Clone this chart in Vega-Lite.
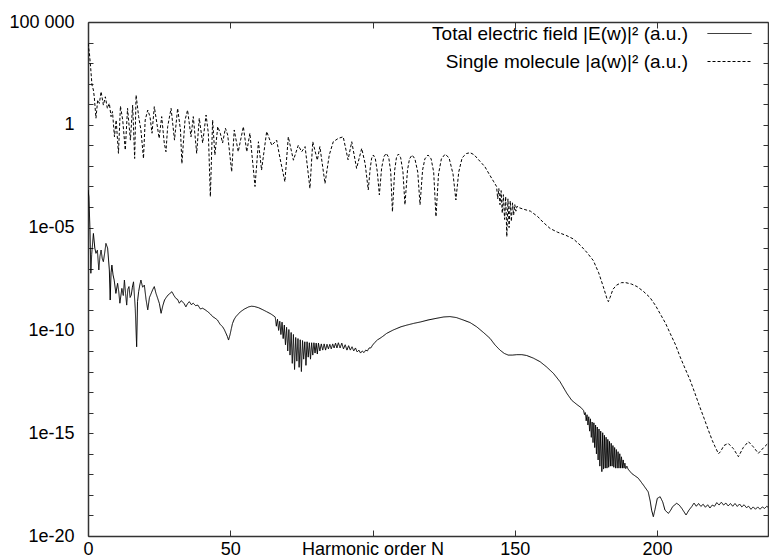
{
  "$schema": "https://vega.github.io/schema/vega-lite/v6.json",
  "autosize": {"type": "none"},
  "padding": {"left": 88, "top": 22, "right": 1, "bottom": 22},
  "width": 680,
  "height": 514,
  "background": "white",
  "config": {
    "view": {"stroke": null},
    "axis": {"labelFont": "Liberation Sans", "labelFontSize": 18, "labelColor": "#000", "domainColor": "#333", "domainWidth": 1.5, "tickColor": "#333", "tickWidth": 1, "grid": false, "labelOverlap": false, "labelFlush": false, "labelBound": false},
    "legend": {"labelFont": "Liberation Sans", "labelFontSize": 19, "labelColor": "#000"}
  },
  "datasets": {
    "solid": [
      {"N":0.0,"v":6.8e-4},{"N":0.3,"v":3.2e-4},{"N":0.7,"v":7.9e-6},{"N":1.0,"v":6.0e-8},{"N":1.3,"v":5.0e-7},{"N":1.9,"v":5.2e-6},{"N":2.4,"v":1.0e-6},{"N":2.8,"v":5.6e-7},{"N":3.3,"v":7.9e-7},{"N":3.8,"v":8.7e-8},{"N":4.2,"v":4.0e-7},{"N":4.6,"v":8.1e-7},{"N":5.0,"v":3.2e-7},{"N":5.4,"v":2.2e-7},{"N":5.9,"v":6.3e-7},{"N":6.3,"v":1.7e-6},{"N":6.9,"v":1.0e-6},{"N":7.5,"v":8.7e-8},{"N":7.8,"v":3.0e-9},{"N":8.1,"v":6.3e-8},{"N":8.4,"v":1.5e-7},{"N":8.8,"v":5.0e-8},{"N":9.2,"v":2.8e-8},{"N":9.8,"v":6.3e-9},{"N":10.4,"v":1.95e-8},{"N":10.8,"v":7.9e-9},{"N":11.2,"v":2.1e-9},{"N":11.9,"v":1.1e-8},{"N":12.4,"v":5.0e-9},{"N":12.8,"v":2.8e-8},{"N":13.2,"v":6.3e-9},{"N":13.6,"v":1.7e-9},{"N":14.0,"v":1.0e-8},{"N":14.4,"v":1.35e-8},{"N":14.8,"v":4.0e-9},{"N":15.2,"v":5.2e-9},{"N":15.6,"v":1.26e-8},{"N":16.0,"v":2.3e-8},{"N":16.6,"v":1.2e-9},{"N":17.1,"v":1.6e-11},{"N":17.4,"v":2.5e-9},{"N":17.8,"v":7.6e-9},{"N":18.2,"v":1.6e-8},{"N":18.6,"v":2.8e-8},{"N":19.2,"v":1.26e-8},{"N":19.8,"v":1.6e-8},{"N":20.4,"v":3.2e-9},{"N":21.0,"v":1.0e-9},{"N":21.6,"v":4.0e-9},{"N":22.2,"v":6.3e-9},{"N":22.8,"v":1.0e-8},{"N":23.3,"v":1.35e-8},{"N":23.9,"v":6.3e-9},{"N":24.5,"v":3.6e-9},{"N":25.1,"v":2.0e-9},{"N":25.7,"v":6.8e-10},{"N":26.3,"v":1.6e-9},{"N":26.9,"v":3.0e-9},{"N":27.5,"v":4.0e-9},{"N":28.1,"v":5.2e-9},{"N":28.8,"v":6.3e-9},{"N":29.5,"v":7.6e-9},{"N":30.2,"v":5.0e-9},{"N":30.9,"v":3.6e-9},{"N":31.5,"v":3.2e-9},{"N":32.1,"v":2.1e-9},{"N":32.7,"v":2.8e-9},{"N":33.2,"v":2.5e-9},{"N":33.8,"v":2.0e-9},{"N":34.4,"v":1.4e-9},{"N":35.0,"v":2.0e-9},{"N":35.6,"v":2.5e-9},{"N":36.3,"v":1.8e-9},{"N":37.0,"v":2.1e-9},{"N":37.8,"v":1.6e-9},{"N":38.6,"v":1.7e-9},{"N":39.5,"v":1.1e-9},{"N":40.3,"v":1.2e-9},{"N":41.2,"v":1.0e-9},{"N":42.1,"v":8.1e-10},{"N":43.0,"v":6.3e-10},{"N":43.8,"v":4.7e-10},{"N":44.6,"v":4.0e-10},{"N":45.5,"v":3.2e-10},{"N":46.4,"v":2.0e-10},{"N":47.3,"v":1.5e-10},{"N":47.9,"v":1.1e-10},{"N":48.5,"v":7.2e-11},{"N":49.0,"v":5.0e-11},{"N":49.4,"v":3.4e-11},{"N":49.9,"v":6.0e-11},{"N":50.4,"v":1.26e-10},{"N":50.8,"v":2.2e-10},{"N":51.4,"v":3.5e-10},{"N":52.0,"v":4.7e-10},{"N":53.5,"v":7.9e-10},{"N":55.0,"v":1.1e-9},{"N":56.5,"v":1.4e-9},{"N":57.5,"v":1.5e-9},{"N":58.5,"v":1.45e-9},{"N":60.0,"v":1.26e-9},{"N":61.5,"v":1.0e-9},{"N":62.8,"v":8.1e-10},{"N":64.3,"v":6.3e-10},{"N":65.8,"v":4.5e-10},
      {"N":66.2,"v":1.6e-10},{"N":66.6,"v":3.5e-10},{"N":67.0,"v":1.0e-10},{"N":67.4,"v":2.8e-10},{"N":67.8,"v":6.3e-11},{"N":68.2,"v":2.5e-10},{"N":68.6,"v":4.0e-11},{"N":69.0,"v":1.8e-10},{"N":69.4,"v":2.0e-11},{"N":69.8,"v":1.4e-10},{"N":70.2,"v":1.0e-11},{"N":70.6,"v":1.1e-10},{"N":71.0,"v":6.3e-12},{"N":71.4,"v":7.9e-11},{"N":71.8,"v":2.5e-12},{"N":72.2,"v":6.3e-11},{"N":72.6,"v":1.26e-12},{"N":73.0,"v":4.5e-11},{"N":73.4,"v":3.2e-12},{"N":73.8,"v":4.0e-11},{"N":74.2,"v":1.6e-12},{"N":74.6,"v":3.5e-11},{"N":75.0,"v":1.0e-12},{"N":75.4,"v":3.2e-11},{"N":75.8,"v":4.0e-12},{"N":76.2,"v":2.8e-11},{"N":76.6,"v":2.0e-12},{"N":77.0,"v":2.8e-11},{"N":77.4,"v":5.0e-12},{"N":77.8,"v":2.5e-11},{"N":78.2,"v":4.0e-12},{"N":78.6,"v":2.5e-11},{"N":79.0,"v":6.3e-12},{"N":79.4,"v":2.5e-11},{"N":79.8,"v":7.9e-12},{"N":80.2,"v":2.4e-11},{"N":80.6,"v":7.1e-12},{"N":81.0,"v":2.4e-11},{"N":81.5,"v":1.0e-11},{"N":82.0,"v":2.2e-11},{"N":82.5,"v":1.1e-11},{"N":83.0,"v":2.2e-11},{"N":83.5,"v":1.1e-11},{"N":84.0,"v":2.1e-11},{"N":84.5,"v":1.26e-11},{"N":85.0,"v":2.1e-11},{"N":85.5,"v":1.26e-11},{"N":86.0,"v":2.2e-11},{"N":86.5,"v":1.4e-11},{"N":87.0,"v":2.4e-11},{"N":87.5,"v":1.4e-11},{"N":88.0,"v":2.5e-11},{"N":88.6,"v":1.4e-11},{"N":89.2,"v":2.4e-11},{"N":89.8,"v":1.26e-11},{"N":90.4,"v":2.0e-11},{"N":91.0,"v":1.1e-11},{"N":91.6,"v":1.8e-11},{"N":92.2,"v":1.1e-11},{"N":92.8,"v":1.6e-11},{"N":93.4,"v":1.0e-11},{"N":94.0,"v":1.4e-11},{"N":94.6,"v":8.9e-12},{"N":95.2,"v":1.1e-11},{"N":95.8,"v":7.9e-12},{"N":96.4,"v":1.0e-11},{"N":97.0,"v":8.3e-12},{"N":97.6,"v":1.1e-11},{"N":98.2,"v":1.0e-11},{"N":98.8,"v":1.4e-11},{"N":99.4,"v":1.4e-11},{"N":100.0,"v":1.9e-11},{"N":100.8,"v":2.6e-11},{"N":101.8,"v":3.5e-11},{"N":102.6,"v":4.1e-11},{"N":103.5,"v":5.0e-11},{"N":105.0,"v":7.2e-11},{"N":107.3,"v":1.05e-10},{"N":110.0,"v":1.5e-10},{"N":112.0,"v":1.8e-10},{"N":114.5,"v":2.2e-10},{"N":117.0,"v":2.6e-10},{"N":119.5,"v":3.2e-10},{"N":122.6,"v":3.9e-10},{"N":125.0,"v":4.5e-10},{"N":127.2,"v":4.7e-10},{"N":129.5,"v":4.2e-10},{"N":131.9,"v":3.2e-10},{"N":134.3,"v":2.4e-10},{"N":136.6,"v":1.5e-10},{"N":139.0,"v":7.9e-11},{"N":141.3,"v":4.1e-11},{"N":143.0,"v":2.0e-11},{"N":144.8,"v":1.1e-11},{"N":146.3,"v":7.6e-12},{"N":147.7,"v":6.3e-12},{"N":149.2,"v":6.3e-12},{"N":150.7,"v":6.6e-12},{"N":152.5,"v":6.6e-12},{"N":154.2,"v":6.0e-12},{"N":156.5,"v":4.5e-12},{"N":158.9,"v":3.0e-12},{"N":161.2,"v":1.66e-12},{"N":163.6,"v":8.1e-13},{"N":165.9,"v":3.2e-13},{"N":168.3,"v":8.7e-14},{"N":170.0,"v":4.0e-14},{"N":171.8,"v":2.5e-14},{"N":173.2,"v":1.8e-14},
      {"N":174.2,"v":1.26e-14},{"N":174.5,"v":7.9e-15},{"N":174.8,"v":1.0e-14},{"N":175.1,"v":4.0e-15},{"N":175.4,"v":7.9e-15},{"N":175.7,"v":2.5e-15},{"N":176.0,"v":6.3e-15},{"N":176.3,"v":1.26e-15},{"N":176.6,"v":5.0e-15},{"N":176.9,"v":6.3e-16},{"N":177.2,"v":3.5e-15},{"N":177.5,"v":3.5e-16},{"N":177.8,"v":3.2e-15},{"N":178.1,"v":2.0e-16},{"N":178.4,"v":2.5e-15},{"N":178.7,"v":1.0e-16},{"N":179.0,"v":2.0e-15},{"N":179.3,"v":5.0e-17},{"N":179.6,"v":1.6e-15},{"N":179.9,"v":2.5e-17},{"N":180.2,"v":1.26e-15},{"N":180.6,"v":1.35e-17},{"N":180.9,"v":1.05e-15},{"N":181.2,"v":1.8e-17},{"N":181.5,"v":7.9e-16},{"N":181.8,"v":2.0e-17},{"N":182.1,"v":6.3e-16},{"N":182.4,"v":2.0e-17},{"N":182.7,"v":5.0e-16},{"N":183.0,"v":2.2e-17},{"N":183.3,"v":4.0e-16},{"N":183.6,"v":2.5e-17},{"N":183.9,"v":3.2e-16},{"N":184.2,"v":2.5e-17},{"N":184.5,"v":2.5e-16},{"N":184.8,"v":2.2e-17},{"N":185.1,"v":2.0e-16},{"N":185.4,"v":2.0e-17},{"N":185.7,"v":1.6e-16},{"N":186.0,"v":2.0e-17},{"N":186.3,"v":1.26e-16},{"N":186.6,"v":2.0e-17},{"N":186.9,"v":1.0e-16},{"N":187.2,"v":2.0e-17},{"N":187.5,"v":7.1e-17},{"N":187.8,"v":2.0e-17},{"N":188.1,"v":5.0e-17},{"N":188.4,"v":2.0e-17},{"N":188.7,"v":3.5e-17},{"N":189.0,"v":1.9e-17},{"N":189.4,"v":2.5e-17},{"N":189.8,"v":1.8e-17},
      {"N":191.1,"v":1.1e-17},{"N":193.4,"v":6.5e-18},{"N":195.2,"v":3.0e-18},{"N":196.9,"v":1.4e-18},{"N":197.6,"v":5.0e-19},{"N":198.1,"v":1.8e-19},{"N":198.7,"v":8.7e-20},{"N":199.3,"v":2.0e-19},{"N":200.1,"v":6.8e-19},{"N":201.1,"v":8.1e-19},{"N":202.0,"v":4.5e-19},{"N":202.8,"v":1.8e-19},{"N":204.0,"v":1.26e-19},{"N":204.8,"v":1.8e-19},{"N":205.5,"v":2.7e-19},{"N":206.9,"v":3.9e-19},{"N":207.8,"v":3.2e-19},{"N":208.7,"v":2.2e-19},{"N":210.2,"v":1.05e-19},{"N":211.2,"v":1.8e-19},{"N":212.2,"v":2.7e-19},{"N":213.0,"v":4.0e-19},{"N":213.8,"v":2.8e-19},{"N":214.6,"v":3.8e-19},{"N":215.4,"v":2.75e-19},{"N":216.2,"v":3.5e-19},{"N":217.0,"v":2.5e-19},{"N":217.8,"v":3.3e-19},{"N":218.6,"v":2.3e-19},{"N":219.4,"v":3.2e-19},{"N":220.2,"v":2.8e-19},{"N":221.0,"v":4.2e-19},{"N":221.8,"v":3.2e-19},{"N":222.6,"v":4.4e-19},{"N":223.4,"v":3.2e-19},{"N":224.2,"v":4.0e-19},{"N":225.0,"v":2.9e-19},{"N":225.8,"v":3.8e-19},{"N":226.6,"v":2.8e-19},{"N":227.4,"v":3.8e-19},{"N":228.2,"v":2.75e-19},{"N":229.0,"v":3.6e-19},{"N":229.8,"v":2.6e-19},{"N":230.6,"v":3.3e-19},{"N":231.4,"v":2.4e-19},{"N":232.2,"v":2.8e-19},{"N":233.0,"v":2.0e-19},{"N":233.8,"v":2.6e-19},{"N":234.6,"v":2.0e-19},{"N":235.4,"v":2.6e-19},{"N":236.2,"v":2.0e-19},{"N":237.0,"v":2.6e-19},{"N":237.8,"v":2.2e-19},{"N":238.6,"v":2.8e-19},{"N":239.0,"v":2.5e-19}
    ],
    "dashed": [
      {"N":0.0,"v":9.1e3},{"N":0.5,"v":3.0e3},{"N":0.9,"v":6.8e2},{"N":1.4,"v":87},{"N":1.9,"v":49},{"N":2.2,"v":23},{"N":2.8,"v":2.1},{"N":3.4,"v":16},{"N":4.0,"v":11},{"N":4.6,"v":41},{"N":5.4,"v":9.1},{"N":6.1,"v":23},{"N":6.8,"v":6.3},{"N":7.5,"v":11},{"N":8.1,"v":2.5},{"N":8.6,"v":4.4},{"N":9.3,"v":0.26},{"N":9.9,"v":1.7},{"N":10.7,"v":0.041},{"N":11.4,"v":8.1},{"N":12.2,"v":1.7},{"N":13.1,"v":0.059},{"N":13.9,"v":6.3},{"N":14.9,"v":0.18},{"N":15.7,"v":9.1},{"N":16.4,"v":0.023},{"N":16.9,"v":28},{"N":17.8,"v":2.5},{"N":18.6,"v":0.56},{"N":19.5,"v":0.023},{"N":20.1,"v":1.7},{"N":21.0,"v":5.2},{"N":21.8,"v":2.5},{"N":22.5,"v":0.39},{"N":23.3,"v":7.6},{"N":24.2,"v":1.2},{"N":25.0,"v":0.22},{"N":25.9,"v":2.5},{"N":26.8,"v":0.13},{"N":27.4,"v":0.049},{"N":28.0,"v":0.81},{"N":29.2,"v":6.3},{"N":30.4,"v":0.18},{"N":31.5,"v":6.3},{"N":32.5,"v":0.56},{"N":33.0,"v":0.013},{"N":34.1,"v":1.7},{"N":35.0,"v":5.2},{"N":36.2,"v":0.26},{"N":37.0,"v":2.5},{"N":38.2,"v":0.041},{"N":39.1,"v":2.1},{"N":40.3,"v":0.13},{"N":41.5,"v":3.0},{"N":42.3,"v":0.39},{"N":43.0,"v":3.2e-4},{"N":43.8,"v":1.7},{"N":44.6,"v":0.034},{"N":45.6,"v":0.81},{"N":46.5,"v":0.39},{"N":47.3,"v":0.13},{"N":48.3,"v":0.68},{"N":49.1,"v":0.32},{"N":50.5,"v":0.0052},{"N":51.4,"v":0.56},{"N":52.8,"v":0.049},{"N":54.6,"v":0.81},{"N":55.8,"v":0.049},{"N":56.9,"v":0.39},{"N":58.7,"v":0.001},{"N":59.9,"v":0.15},{"N":61.0,"v":0.0063},{"N":62.8,"v":0.47},{"N":64.6,"v":0.10},{"N":66.3,"v":0.18},{"N":67.5,"v":0.023},{"N":69.2,"v":0.0017},{"N":70.4,"v":0.26},{"N":72.2,"v":0.019},{"N":73.9,"v":0.10},{"N":75.1,"v":0.049},{"N":76.3,"v":0.087},{"N":78.0,"v":8.1e-4},{"N":79.0,"v":0.15},{"N":80.6,"v":0.019},{"N":81.5,"v":0.087},{"N":83.3,"v":0.0014},{"N":84.8,"v":0.034},{"N":86.2,"v":0.15},{"N":88.0,"v":0.22},{"N":89.7,"v":0.26},{"N":91.4,"v":0.020},{"N":92.7,"v":0.15},{"N":94.4,"v":0.0076},{"N":96.2,"v":0.071},{"N":97.4,"v":0.013},{"N":98.5,"v":6.8e-4},
      {"N":99.2,"v":0.0079},{"N":99.7,"v":0.024},{"N":100.3,"v":0.034},{"N":101.0,"v":0.022},{"N":101.7,"v":0.0050},{"N":102.4,"v":3.9e-4},{"N":103.2,"v":0.0079},{"N":104.0,"v":0.028},{"N":104.8,"v":0.041},{"N":105.7,"v":0.026},{"N":106.4,"v":0.0050},{"N":107.0,"v":5.9e-5},{"N":107.8,"v":0.0063},{"N":108.4,"v":0.025},{"N":109.1,"v":0.038},{"N":109.9,"v":0.025},{"N":110.7,"v":0.0050},{"N":111.4,"v":1.3e-4},{"N":112.3,"v":0.0063},{"N":113.0,"v":0.022},{"N":113.9,"v":0.034},{"N":114.9,"v":0.022},{"N":115.9,"v":0.0050},{"N":116.7,"v":1.3e-4},{"N":117.6,"v":0.0063},{"N":118.4,"v":0.022},{"N":119.5,"v":0.034},{"N":120.6,"v":0.022},{"N":121.5,"v":0.0050},{"N":122.3,"v":3.4e-5},{"N":123.2,"v":0.0040},{"N":124.2,"v":0.022},{"N":125.5,"v":0.037},{"N":126.9,"v":0.025},{"N":128.3,"v":0.0040},{"N":129.3,"v":2.2e-4},{"N":130.3,"v":0.0050},{"N":131.5,"v":0.025},{"N":133.0,"v":0.040},{"N":134.3,"v":0.044},{"N":135.7,"v":0.035},{"N":137.0,"v":0.022},{"N":138.5,"v":0.013},{"N":139.5,"v":0.0091},{"N":141.0,"v":0.0040},{"N":142.5,"v":0.0018},{"N":143.6,"v":0.0010},
      {"N":144.0,"v":2.5e-4},{"N":144.4,"v":7.9e-4},{"N":144.8,"v":1.3e-4},{"N":145.2,"v":6.3e-4},{"N":145.6,"v":5.0e-5},{"N":146.0,"v":4.0e-4},{"N":146.4,"v":2.5e-5},{"N":146.8,"v":3.2e-4},{"N":147.2,"v":3.6e-6},{"N":147.6,"v":2.5e-4},{"N":148.0,"v":1.0e-5},{"N":148.4,"v":2.0e-4},{"N":148.8,"v":2.0e-5},{"N":149.2,"v":1.6e-4},{"N":149.6,"v":4.0e-5},{"N":150.0,"v":1.3e-4},{"N":150.4,"v":6.3e-5},{"N":150.8,"v":1.1e-4},{"N":151.5,"v":9.3e-5},
      {"N":153.0,"v":7.9e-5},{"N":155.5,"v":6.3e-5},{"N":158.0,"v":3.5e-5},{"N":160.0,"v":1.8e-5},{"N":162.4,"v":9.1e-6},{"N":165.0,"v":6.0e-6},{"N":168.0,"v":4.2e-6},{"N":170.6,"v":2.8e-6},{"N":173.0,"v":1.4e-6},{"N":175.3,"v":6.3e-7},{"N":177.6,"v":2.5e-7},{"N":179.5,"v":6.3e-8},{"N":181.1,"v":1.35e-8},{"N":182.4,"v":3.5e-9},{"N":182.9,"v":2.5e-9},{"N":183.5,"v":4.0e-9},{"N":184.5,"v":1.0e-8},{"N":185.8,"v":1.6e-8},{"N":187.5,"v":2.1e-8},{"N":189.0,"v":2.1e-8},{"N":191.0,"v":1.8e-8},{"N":193.0,"v":1.35e-8},{"N":195.2,"v":7.9e-9},{"N":197.5,"v":4.0e-9},{"N":199.5,"v":1.6e-9},{"N":201.0,"v":6.8e-10},{"N":203.0,"v":2.2e-10},{"N":204.6,"v":7.2e-11},{"N":206.5,"v":2.0e-11},{"N":208.1,"v":5.2e-12},{"N":210.0,"v":1.26e-12},{"N":211.6,"v":3.9e-13},{"N":213.3,"v":8.9e-14},{"N":215.0,"v":1.95e-14},{"N":216.6,"v":5.0e-15},{"N":218.0,"v":1.45e-15},{"N":219.4,"v":4.5e-16},{"N":220.4,"v":2.2e-16},{"N":221.6,"v":1.0e-16},{"N":222.3,"v":1.26e-16},{"N":223.5,"v":2.5e-16},{"N":225.0,"v":3.2e-16},{"N":226.8,"v":1.8e-16},{"N":228.6,"v":7.2e-17},{"N":230.3,"v":2.0e-16},{"N":232.1,"v":3.9e-16},{"N":233.8,"v":2.2e-16},{"N":235.6,"v":1.05e-16},{"N":237.5,"v":2.0e-16},{"N":239.0,"v":3.2e-16}
    ]
  },
  "layer": [
    {
      "data": {"name": "solid"},
      "mark": {"type": "line", "color": "#000", "strokeWidth": 1, "clip": true},
      "encoding": {
        "x": {"field": "N", "type": "quantitative", "scale": {"domain": [0, 239], "nice": false, "zero": false},
          "axis": {"orient": "bottom", "title": null, "values": [0, 50, 100, 150, 200], "tickSize": -6, "labelPadding": 10,
            "labelExpr": "datum.value == 100 ? 'Harmonic order N' : datum.label"}},
        "y": {"field": "v", "type": "quantitative", "scale": {"type": "log", "domain": [1e-20, 1e5], "nice": false},
          "axis": {"orient": "left", "title": null, "tickSize": -5, "labelPadding": 19,
            "values": [1e-20, 1e-19, 1e-18, 1e-17, 1e-16, 1e-15, 1e-14, 1e-13, 1e-12, 1e-11, 1e-10, 1e-9, 1e-8, 1e-7, 1e-6, 1e-5, 1e-4, 1e-3, 1e-2, 1e-1, 1, 10, 100, 1000, 1e4, 1e5],
            "labelExpr": "round(log(datum.value)/LN10) == 5 ? '100 000' : round(log(datum.value)/LN10) == 0 ? '1' : round(log(datum.value)/LN10) == -5 ? '1e-05' : round(log(datum.value)/LN10) == -10 ? '1e-10' : round(log(datum.value)/LN10) == -15 ? '1e-15' : round(log(datum.value)/LN10) == -20 ? '1e-20' : ''"}},
        "strokeDash": {"datum": "Total electric field |E(w)|² (a.u.)", "type": "nominal",
          "scale": {"domain": ["Total electric field |E(w)|² (a.u.)", "Single molecule |a(w)|² (a.u.)"], "range": [[1, 0], [3, 2]]},
          "legend": {"title": null, "orient": "none", "legendX": 630, "legendY": 0, "symbolType": "M-2,0H2", "symbolSize": 484, "symbolStrokeColor": "#000", "symbolFillColor": "transparent", "symbolStrokeWidth": 1, "labelAlign": "right", "labelOffset": -53, "labelLimit": 500, "rowPadding": 6, "padding": 0}}
      }
    },
    {
      "data": {"name": "dashed"},
      "mark": {"type": "line", "color": "#000", "strokeWidth": 1, "clip": true},
      "encoding": {
        "x": {"field": "N", "type": "quantitative",
          "axis": {"orient": "top", "title": null, "labels": false, "values": [0, 50, 100, 150, 200], "tickSize": -6}},
        "y": {"field": "v", "type": "quantitative",
          "axis": {"orient": "right", "title": null, "labels": false, "tickSize": -5,
            "values": [1e-20, 1e-19, 1e-18, 1e-17, 1e-16, 1e-15, 1e-14, 1e-13, 1e-12, 1e-11, 1e-10, 1e-9, 1e-8, 1e-7, 1e-6, 1e-5, 1e-4, 1e-3, 1e-2, 1e-1, 1, 10, 100, 1000, 1e4, 1e5]}},
        "strokeDash": {"datum": "Single molecule |a(w)|² (a.u.)", "type": "nominal"}
      }
    }
  ],
  "resolve": {"axis": {"x": "independent", "y": "independent"}}
}
